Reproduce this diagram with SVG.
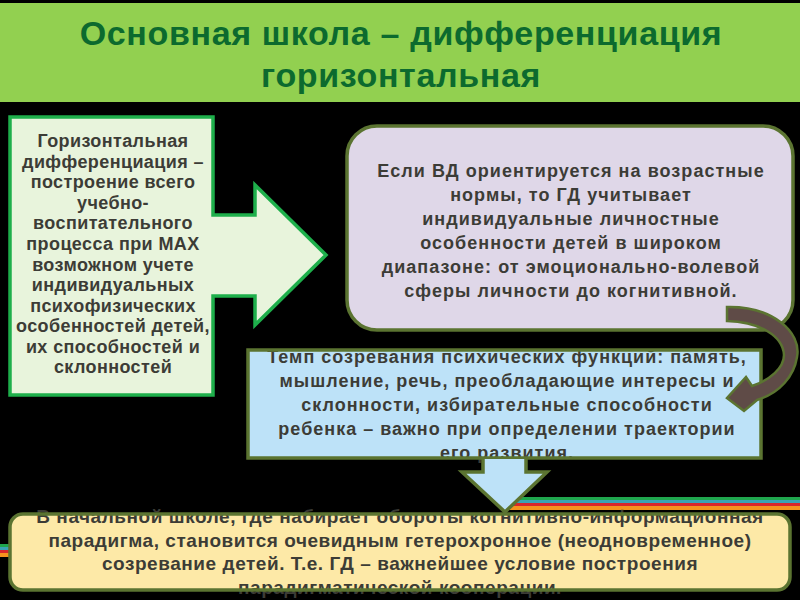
<svg xmlns="http://www.w3.org/2000/svg" width="800" height="600" viewBox="0 0 800 600">
<style>
.t{font-family:"Liberation Sans",Arial,sans-serif;font-weight:bold;fill:#3c3c36;text-anchor:middle}
.ttl{font-family:"Liberation Sans",Arial,sans-serif;font-weight:bold;fill:#0c6a2e;text-anchor:middle;font-size:34px;letter-spacing:0.65px}
.ol{fill:none;stroke:#5b7431;stroke-width:3.5}
</style>
<rect x="0" y="0" width="800" height="600" fill="#000"/>
<g id="title">
<rect x="0" y="3" width="800" height="99" fill="#92d050"/>
<text class="ttl" x="401" y="45">Основная школа – дифференциация</text>
<text class="ttl" x="401" y="87">горизонтальная</text>
</g>
<g id="stripes">
<rect x="505" y="497" width="295" height="3" fill="#1fa64d"/>
<rect x="505" y="500" width="295" height="3" fill="#3aa3b4"/>
<rect x="505" y="503" width="295" height="3" fill="#d8262b"/>
<rect x="505" y="506" width="295" height="4" fill="#f5921e"/>
<rect x="0" y="544" width="12" height="3" fill="#1fa64d"/>
<rect x="0" y="547" width="12" height="3" fill="#3aa3b4"/>
<rect x="0" y="550" width="12" height="3" fill="#d8262b"/>
<rect x="0" y="553" width="12" height="4" fill="#f5921e"/>
</g>
<g id="left-callout">
<path d="M10,117 H213 V215 H255 V185 L326,255 L255,325 V296 H213 V395 H10 Z" fill="#e8f4dc" stroke="#1eaf4b" stroke-width="3.5" stroke-linejoin="miter"/>
<g class="t" font-size="18" letter-spacing="0.4">
<text x="113" y="147">Горизонтальная</text>
<text x="113" y="168">дифференциация –</text>
<text x="113" y="188">построение всего</text>
<text x="113" y="209">учебно-</text>
<text x="113" y="229">воспитательного</text>
<text x="113" y="250">процесса при МАХ</text>
<text x="113" y="271">возможном учете</text>
<text x="113" y="291">индивидуальных</text>
<text x="113" y="312">психофизических</text>
<text x="113" y="332">особенностей детей,</text>
<text x="113" y="353">их способностей и</text>
<text x="113" y="373">склонностей</text>
</g>
</g>
<g id="lavender-box">
<rect x="347" y="126" width="446" height="204" rx="30" fill="#dfd7e8"/>
<rect x="347" y="126" width="446" height="204" rx="30" class="ol"/>
<g class="t" font-size="18" letter-spacing="1.05">
<text x="571" y="177">Если ВД ориентируется на возрастные</text>
<text x="571" y="201">нормы, то ГД учитывает</text>
<text x="571" y="225">индивидуальные личностные</text>
<text x="571" y="249">особенности детей в широком</text>
<text x="571" y="273">диапазоне: от эмоционально-волевой</text>
<text x="571" y="297">сферы личности до когнитивной.</text>
</g>
</g>
<g id="blue-box">
<rect x="248" y="350" width="513" height="108" fill="#bde2f8"/>
<g class="t" font-size="18" letter-spacing="1">
<text x="507" y="363">Темп созревания психических функций: память,</text>
<text x="507" y="387">мышление, речь, преобладающие интересы и</text>
<text x="507" y="411">склонности, избирательные способности</text>
<text x="507" y="435">ребенка – важно при определении траектории</text>
<text x="507" y="459">его развития.</text>
</g>
<rect x="248" y="350" width="513" height="108" class="ol"/>
</g>
<g id="yellow-box">
<rect x="10" y="514" width="780" height="76" rx="13" fill="#fde9a7"/>
<g class="t" font-size="19" letter-spacing="0.55">
<text x="400" y="523">В начальной школе, где набирает обороты когнитивно-информационная</text>
<text x="400" y="547">парадигма, становится очевидным гетерохронное (неодновременное)</text>
<text x="400" y="570">созревание детей. Т.е. ГД – важнейшее условие построения</text>
<text x="400" y="594">парадигматической кооперации.</text>
</g>
<rect x="10" y="514" width="780" height="76" rx="13" class="ol"/>
</g>
<g id="connectors">
<path d="M483,459 V472 H462 L505,512 L547,472 H526 V459" fill="#bde2f8" stroke="#5b7431" stroke-width="3.5" stroke-linejoin="miter"/>
<path d="M727,307 C772,306 802,332 797,357 C794,376 780,393 757,400 L744,411 L727,398 L746,377 L752,386 C770,380 784,368 784,355 C783,336 760,322 727,321 Z" fill="#5f4b47" stroke="#5b7431" stroke-width="2.5" stroke-linejoin="miter"/>
</g>
</svg>
